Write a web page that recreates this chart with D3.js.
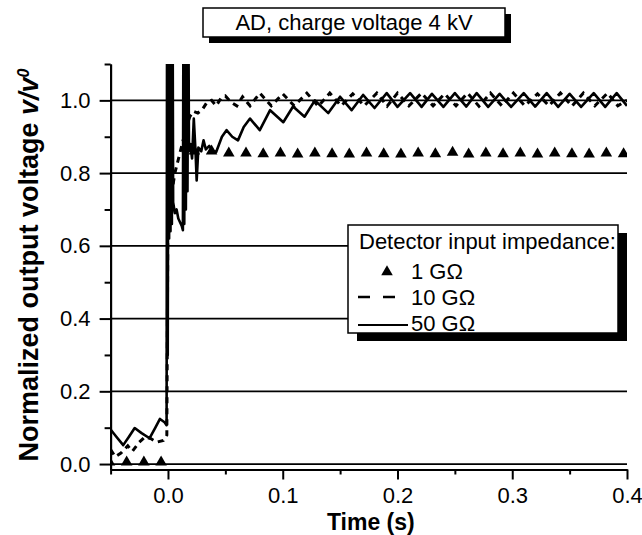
<!DOCTYPE html>
<html>
<head>
<meta charset="utf-8">
<script src="https://cdn.jsdelivr.net/npm/d3@7"></script>
<style>
  body { margin: 0; background: #fff; }
  text { font-family: "Liberation Sans", Arial, sans-serif; fill: #000; }
</style>
</head>
<body>
<svg id="chart" width="642" height="535"></svg>
<script>
// values: [time (s), v/v0]
const series1G = [
  [-0.051, 0.005], [-0.036, 0.005], [-0.021, 0.005], [-0.006, 0.005],
  [0.023, 0.86], [0.038, 0.86], [0.053, 0.855], [0.068, 0.855], [0.083, 0.853],
  [0.098, 0.855], [0.113, 0.852], [0.128, 0.855], [0.143, 0.853], [0.158, 0.852],
  [0.173, 0.855], [0.188, 0.853], [0.203, 0.852], [0.218, 0.855], [0.233, 0.853],
  [0.248, 0.857], [0.262, 0.852], [0.277, 0.855], [0.292, 0.853], [0.307, 0.855],
  [0.322, 0.852], [0.337, 0.855], [0.352, 0.853], [0.367, 0.852], [0.382, 0.855],
  [0.397, 0.853]
];

const series10G = [
  [-0.05, 0.04], [-0.046, 0.02], [-0.041, 0.03], [-0.035, 0.05], [-0.031, 0.035],
  [-0.025, 0.06], [-0.02, 0.075], [-0.015, 0.07], [-0.01, 0.06], [-0.004, 0.065],
  [-0.001, 0.08], [0.0, 0.72], [0.002, 0.73], [0.004, 0.76], [0.006, 0.8],
  [0.008, 0.825], [0.010, 0.85], [0.012, 0.875], [0.014, 0.9], [0.016, 0.925],
  [0.019, 0.955], [0.022, 0.97], [0.026, 0.965], [0.030, 0.975], [0.034, 0.995],
  [0.038, 1.0], [0.042, 0.985], [0.046, 1.005], [0.050, 1.012], [0.055, 0.995],
  [0.060, 0.985], [0.065, 1.01], [0.0715, 0.985], [0.080, 1.02], [0.090, 0.985],
  [0.100, 1.018], [0.110, 0.985], [0.121, 1.02], [0.131, 0.984], [0.141, 1.02],
  [0.151, 0.985], [0.161, 1.018], [0.171, 0.985], [0.182, 1.02], [0.191, 0.984],
  [0.200, 1.02], [0.210, 0.985], [0.221, 1.02], [0.231, 0.985], [0.241, 1.018],
  [0.251, 0.985], [0.261, 1.02], [0.271, 0.984], [0.281, 1.02], [0.291, 0.985],
  [0.301, 1.02], [0.311, 0.985], [0.322, 1.018], [0.332, 0.985], [0.342, 1.02],
  [0.352, 0.984], [0.362, 1.02], [0.372, 0.985], [0.383, 1.02], [0.392, 0.985],
  [0.400, 1.0]
];

const series50G = [
  [-0.05, 0.095], [-0.045, 0.075], [-0.039, 0.052], [-0.034, 0.075], [-0.029, 0.099],
  [-0.023, 0.085], [-0.016, 0.071], [-0.011, 0.1], [-0.007, 0.124], [-0.003, 0.115],
  [-0.0012, 0.107],
  [-0.0008, 1.3], [-0.0002, 0.3], [0.0004, 1.3], [0.001, 0.62], [0.0016, 1.3],
  [0.0022, 0.64], [0.0028, 1.3], [0.0034, 0.66], [0.004, 1.3], [0.0045, 0.72],
  [0.006, 0.69], [0.0075, 0.7], [0.009, 0.675], [0.0105, 0.665], [0.012, 0.655],
  [0.013, 0.643],
  [0.0135, 1.3], [0.0142, 0.66], [0.0149, 1.3], [0.0156, 0.7], [0.0163, 1.3],
  [0.017, 0.75], [0.0177, 1.3], [0.0183, 0.86],
  [0.0195, 0.88], [0.021, 0.84], [0.0225, 0.95], [0.024, 0.86], [0.025, 0.78],
  [0.0265, 0.87], [0.029, 0.86], [0.031, 0.89], [0.033, 0.865], [0.036, 0.875],
  [0.039, 0.86], [0.042, 0.858], [0.047, 0.9], [0.051, 0.918], [0.056, 0.9],
  [0.061, 0.89], [0.066, 0.927], [0.0715, 0.95], [0.080, 0.918], [0.089, 0.973],
  [0.1005, 0.94], [0.109, 0.983], [0.119, 0.955], [0.128, 1.0], [0.1397, 0.965],
  [0.150, 1.01], [0.160, 0.973], [0.170, 1.015], [0.180, 0.979], [0.1906, 1.02],
  [0.200, 0.982], [0.211, 1.02], [0.221, 0.982], [0.230, 1.018], [0.240, 0.982],
  [0.250, 1.02], [0.260, 0.983], [0.269, 1.02], [0.279, 0.982], [0.289, 1.018],
  [0.299, 0.982], [0.310, 1.02], [0.320, 0.983], [0.330, 1.02], [0.340, 0.982],
  [0.350, 1.018], [0.360, 0.982], [0.371, 1.02], [0.381, 0.982], [0.391, 1.02],
  [0.400, 0.985]
];

const xMajor = [0, 0.1, 0.2, 0.3, 0.4];
const xMinor = [-0.05, 0.05, 0.15, 0.25, 0.35];
const yMajor = [0, 0.2, 0.4, 0.6, 0.8, 1.0];
const yMinor = [0.1, 0.3, 0.5, 0.7, 0.9, 1.1];
const legendLabels = ["1 G\u03A9", "10 G\u03A9", "50 G\u03A9"];
const titleText = "AD, charge voltage 4 kV";

const svg = d3.select("#chart");
const pLeft = 110.6, pRight = 627, pTop = 64, pBottom = 469.5;

const x = d3.scaleLinear().domain([-0.05, 0.4]).range([pLeft, pRight]);
const y = d3.scaleLinear().domain([-0.015, 1.1]).range([pBottom, pTop]);

svg.append("defs").append("clipPath").attr("id", "plot")
  .append("rect").attr("x", pLeft).attr("y", pTop)
  .attr("width", pRight - pLeft).attr("height", pBottom - pTop);

// horizontal grid
svg.append("g").selectAll("line").data(yMajor).join("line")
  .attr("x1", pLeft).attr("x2", pRight)
  .attr("y1", d => y(d)).attr("y2", d => y(d))
  .attr("stroke", "#000").attr("stroke-width", 1.8);

// axes
const fmt = d3.format(".1f");
svg.append("g").attr("transform", `translate(0,${pBottom})`)
  .call(d3.axisBottom(x).tickValues(xMajor).tickSize(10).tickSizeOuter(0)
    .tickPadding(8).tickFormat(fmt));
svg.append("g").attr("transform", `translate(0,${pBottom})`)
  .call(d3.axisBottom(x).tickValues(xMinor).tickSize(5).tickSizeOuter(0).tickFormat(""));
svg.append("g").attr("transform", `translate(${pLeft},0)`)
  .call(d3.axisLeft(y).tickValues(yMajor).tickSize(11).tickSizeOuter(0)
    .tickPadding(9).tickFormat(fmt));
svg.append("g").attr("transform", `translate(${pLeft},0)`)
  .call(d3.axisLeft(y).tickValues(yMinor).tickSize(6).tickSizeOuter(0).tickFormat(""));

svg.selectAll(".domain, .tick line").attr("stroke", "#000").attr("stroke-width", 2);
svg.selectAll(".tick text").attr("font-size", 22)
  .attr("font-family", "Liberation Sans, Arial, sans-serif").attr("fill", "#000");

// axis titles
svg.append("text").attr("x", (x(0.15) + x(0.2)) / 2 + 2).attr("y", 530)
  .attr("text-anchor", "middle").attr("font-size", 23).attr("font-weight", "bold")
  .text("Time (s)");

const yt = svg.append("text")
  .attr("transform", "translate(38,265) rotate(-90)")
  .attr("text-anchor", "middle").attr("font-size", 27).attr("font-weight", "bold");
yt.append("tspan").text("Normalized output voltage ");
yt.append("tspan").attr("font-style", "italic").text("v/v");
yt.append("tspan").attr("font-style", "italic").attr("font-size", 16)
  .attr("dy", -9).text("0");

// curves
const line = d3.line().x(d => x(d[0])).y(d => y(d[1]));
const plot = svg.append("g").attr("clip-path", "url(#plot)");

plot.append("path").datum(series10G).attr("d", line)
  .attr("fill", "none").attr("stroke", "#000").attr("stroke-width", 3)
  .attr("stroke-dasharray", "6,5");
plot.append("path").datum(series50G).attr("d", line)
  .attr("fill", "none").attr("stroke", "#000").attr("stroke-width", 2.6)
  .attr("stroke-linejoin", "round");

const tri = d3.symbol().type(d3.symbolTriangle).size(58);
plot.append("g").selectAll("path").data(series1G).join("path")
  .attr("transform", d => `translate(${x(d[0])},${y(d[1])})`)
  .attr("d", tri).attr("fill", "#000");

// legend
const lg = svg.append("g");
lg.append("rect").attr("x", 357).attr("y", 233).attr("width", 270).attr("height", 108)
  .attr("fill", "#000");
lg.append("rect").attr("x", 348).attr("y", 225).attr("width", 270).attr("height", 108)
  .attr("fill", "#fff").attr("stroke", "#000").attr("stroke-width", 1.5);
lg.append("text").attr("x", 359).attr("y", 249).attr("font-size", 22)
  .text("Detector input impedance:");
lg.append("path").attr("transform", "translate(387,272)").attr("d", tri).attr("fill", "#000");
lg.append("line").attr("x1", 358).attr("x2", 399).attr("y1", 297).attr("y2", 297)
  .attr("stroke", "#000").attr("stroke-width", 2.4).attr("stroke-dasharray", "12,13");
lg.append("line").attr("x1", 358).attr("x2", 408).attr("y1", 325).attr("y2", 325)
  .attr("stroke", "#000").attr("stroke-width", 2.2);
lg.selectAll("text.lab").data(legendLabels).join("text").attr("class", "lab")
  .attr("x", 411).attr("y", (d, i) => 279 + i * 26).attr("font-size", 22)
  .text(d => d);

// title box
const tg = svg.append("g");
tg.append("rect").attr("x", 209).attr("y", 14).attr("width", 302).attr("height", 29)
  .attr("fill", "#000");
tg.append("rect").attr("x", 203).attr("y", 8).attr("width", 302).attr("height", 29)
  .attr("fill", "#fff").attr("stroke", "#000").attr("stroke-width", 1.5);
tg.append("text").attr("x", 354).attr("y", 30).attr("text-anchor", "middle")
  .attr("font-size", 22).text(titleText);
</script>
</body>
</html>
